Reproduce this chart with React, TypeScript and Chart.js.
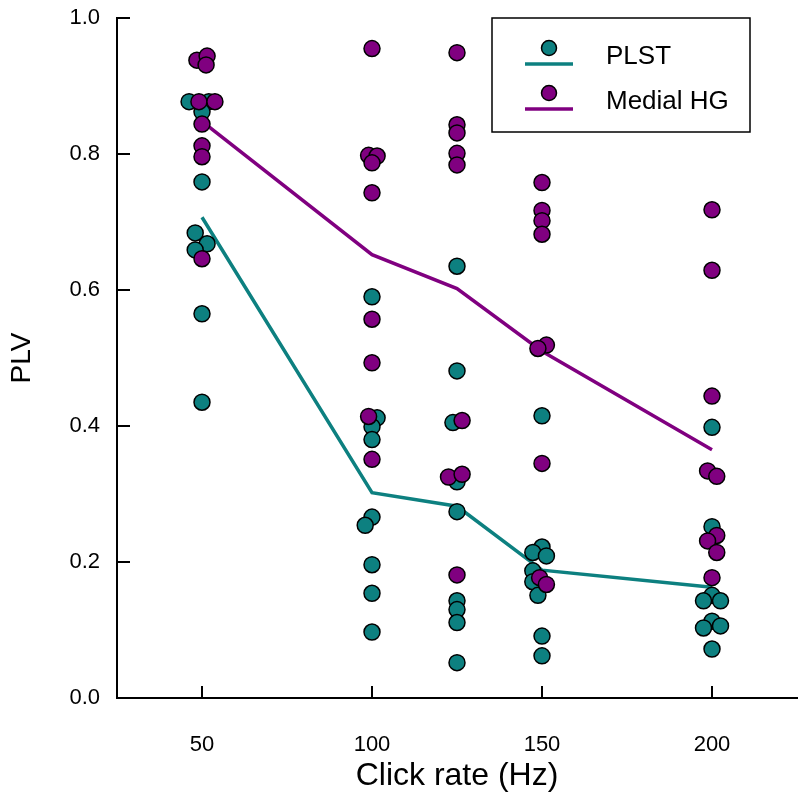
import React, { useEffect, useRef } from "react";
import { Chart, registerables } from "chart.js";
Chart.register(...registerables);

const TEAL = "#0d8080";
const PURPLE = "#800080";

const clickRates = [50, 100, 125, 150, 200];
const plstMean = [0.707, 0.302, 0.282, 0.188, 0.163];
const hgMean = [0.848, 0.652, 0.602, 0.51, 0.365];

const plstX = [
  46.2, 52, 50, 50, 48, 51.5, 48, 50, 50,
  100, 101.5, 100, 100, 100, 98, 100, 100, 100,
  125, 125, 123.8, 125, 125, 125, 125, 125, 125,
  150, 150, 147.3, 151.3, 147.3, 147.3, 148.8, 150, 150,
  200, 200, 200, 197.5, 202.5, 200, 197.5, 202.5, 200,
];
const plstY = [
  0.877, 0.877, 0.862, 0.759, 0.684, 0.668, 0.659, 0.565, 0.435,
  0.59, 0.412, 0.399, 0.38, 0.266, 0.254, 0.196, 0.154, 0.097,
  0.635, 0.481, 0.405, 0.318, 0.274, 0.143, 0.13, 0.111, 0.052,
  0.415, 0.222, 0.214, 0.209, 0.187, 0.171, 0.151, 0.091, 0.062,
  0.398, 0.252, 0.151, 0.143, 0.143, 0.113, 0.103, 0.106, 0.072,
];
const hgX = [
  48.5, 51.5, 51.2, 49.1, 53.8, 50, 50, 50, 50,
  100, 99, 101.5, 100, 100, 100, 100, 99, 100,
  125, 125, 125, 125, 125, 126.5, 122.5, 126.5, 125,
  150, 150, 150, 150, 151.3, 148.8, 150, 149.3, 151.3,
  200, 200, 200, 198.7, 201.4, 201.4, 198.7, 201.4, 200,
];
const hgY = [
  0.938, 0.944, 0.931, 0.877, 0.877, 0.844, 0.812, 0.796, 0.646,
  0.955, 0.798, 0.797, 0.787, 0.743, 0.557, 0.493, 0.414, 0.351,
  0.949, 0.843, 0.831, 0.801, 0.784, 0.408, 0.325, 0.329, 0.181,
  0.758, 0.717, 0.702, 0.682, 0.519, 0.514, 0.345, 0.177, 0.167,
  0.718, 0.629, 0.444, 0.334, 0.326, 0.239, 0.231, 0.214, 0.177,
];
const xTicks = [50, 100, 150, 200];
const yTicks = [0, 0.2, 0.4, 0.6, 0.8, 1.0];
const legendLabels = ["PLST", "Medial HG"];

const FONT = "'Liberation Sans', Arial, sans-serif";

const zip = (xs: number[], ys: number[]) => xs.map((x, i) => ({ x, y: ys[i] }));

const extrasPlugin = {
  id: "extras",
  afterDraw(chart: any) {
    const ctx = chart.ctx;
    const xs = chart.scales.x;
    const ys = chart.scales.y;
    const area = chart.chartArea;
    ctx.save();
    ctx.strokeStyle = "#000";
    ctx.lineWidth = 2;
    yTicks.forEach((v) => {
      if (v === 0) return;
      const py = Math.round(ys.getPixelForValue(v));
      ctx.beginPath();
      ctx.moveTo(area.left, py);
      ctx.lineTo(area.left + 13, py);
      ctx.stroke();
    });
    xTicks.forEach((v) => {
      const px = Math.round(xs.getPixelForValue(v));
      ctx.beginPath();
      ctx.moveTo(px, area.bottom);
      ctx.lineTo(px, area.bottom - 12);
      ctx.stroke();
    });
    const bx = 492, by = 18, bw = 258, bh = 114;
    ctx.fillStyle = "#fff";
    ctx.fillRect(bx, by, bw, bh);
    ctx.lineWidth = 1.5;
    ctx.strokeStyle = "#000";
    ctx.strokeRect(bx, by, bw, bh);
    const colors = [TEAL, PURPLE];
    const rows = [48, 93];
    colors.forEach((c, i) => {
      const cy = rows[i];
      ctx.beginPath();
      ctx.arc(549, cy, 7.5, 0, Math.PI * 2);
      ctx.fillStyle = c;
      ctx.fill();
      ctx.lineWidth = 1.5;
      ctx.strokeStyle = "#000";
      ctx.stroke();
      ctx.beginPath();
      ctx.moveTo(525, cy + 16);
      ctx.lineTo(573, cy + 16);
      ctx.lineWidth = 3.5;
      ctx.strokeStyle = c;
      ctx.stroke();
      ctx.fillStyle = "#000";
      ctx.font = `26px ${FONT}`;
      ctx.textBaseline = "middle";
      ctx.textAlign = "left";
      ctx.fillText(legendLabels[i], 606, cy + 9);
    });
    ctx.restore();
  },
};

export default function App() {
  const ref = useRef<HTMLCanvasElement>(null);
  useEffect(() => {
    document.body.style.margin = "0";
    const chart = new Chart(ref.current!, {
      type: "scatter",
      data: {
        datasets: [
          {
            type: "line",
            label: "PLST mean",
            data: zip(clickRates, plstMean),
            borderColor: TEAL,
            borderWidth: 3.5,
            pointRadius: 0,
            fill: false,
            showLine: true,
            order: 10,
          } as any,
          {
            type: "line",
            label: "Medial HG mean",
            data: zip(clickRates, hgMean),
            borderColor: PURPLE,
            borderWidth: 3.5,
            pointRadius: 0,
            fill: false,
            showLine: true,
            order: 9,
          } as any,
          {
            label: "PLST",
            data: zip(plstX, plstY),
            backgroundColor: TEAL,
            borderColor: "#000",
            borderWidth: 1.5,
            pointRadius: 8,
            order: 2,
          },
          {
            label: "Medial HG",
            data: zip(hgX, hgY),
            backgroundColor: PURPLE,
            borderColor: "#000",
            borderWidth: 1.5,
            pointRadius: 8,
            order: 1,
          },
        ],
      },
      options: {
        animation: false,
        responsive: false,
        devicePixelRatio: 1,
        layout: { autoPadding: false, padding: { top: 18, right: 3, left: 0, bottom: 0 } },
        plugins: { legend: { display: false }, tooltip: { enabled: false } },
        scales: {
          x: {
            type: "linear",
            min: 25,
            max: 225,
            grid: { display: false, drawTicks: false },
            border: { display: true, color: "#000", width: 2 },
            afterBuildTicks: (s: any) => {
              s.ticks = xTicks.map((v) => ({ value: v }));
            },
            afterFit: (s: any) => {
              s.height = 102;
              s.paddingLeft = 0;
              s.paddingRight = 0;
            },
            ticks: {
              color: "#000",
              padding: 34,
              maxRotation: 0,
              font: { family: FONT, size: 22 },
              callback: (v: any) => String(v),
            },
            title: {
              display: true,
              text: "Click rate (Hz)",
              color: "#000",
              font: { family: FONT, size: 32 },
              padding: { top: 0, bottom: 5 },
            },
          },
          y: {
            type: "linear",
            min: 0,
            max: 1,
            grid: { display: false, drawTicks: false },
            border: { display: true, color: "#000", width: 2 },
            afterBuildTicks: (s: any) => {
              s.ticks = yTicks.map((v) => ({ value: v }));
            },
            afterFit: (s: any) => {
              s.width = 117;
              s.paddingTop = 0;
              s.paddingBottom = 0;
            },
            ticks: {
              color: "#000",
              padding: 17,
              font: { family: FONT, size: 22 },
              callback: (v: any) => Number(v).toFixed(1),
            },
            title: {
              display: true,
              text: "PLV",
              color: "#000",
              font: { family: FONT, size: 28 },
              padding: { top: 5, bottom: 0 },
            },
          },
        },
      },
      plugins: [extrasPlugin],
    });
    return () => chart.destroy();
  }, []);
  return (
    <div style={{ width: 800, height: 800 }}>
      <canvas ref={ref} width={800} height={800} />
    </div>
  );
}
